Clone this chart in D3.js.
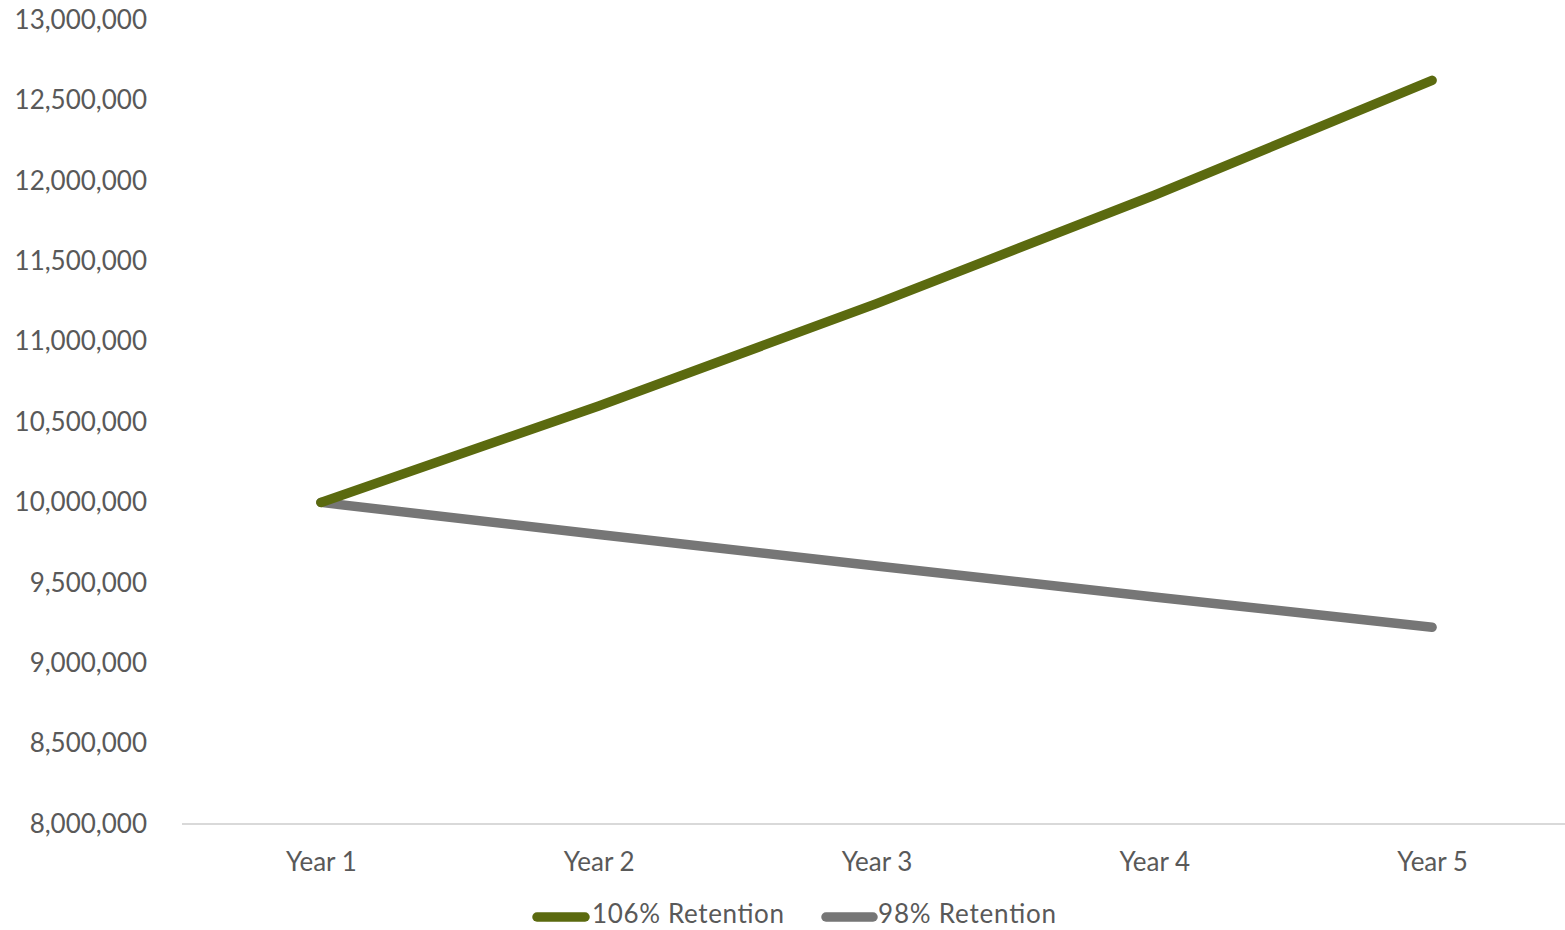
<!DOCTYPE html>
<html><head><meta charset="utf-8">
<script src="https://cdn.jsdelivr.net/npm/d3@7"></script>
<style>
html,body{margin:0;padding:0;background:#fff;overflow:hidden;}
svg{display:block;}
text{font-family:Lato, "Open Sans", sans-serif;fill:#595959;}
</style></head>
<body>
<svg id="chart" width="1565" height="930"></svg>
<script>
const categories = ["Year 1","Year 2","Year 3","Year 4","Year 5"];
const retention106 = [10000000, 10600000, 11236000, 11910160, 12624770];
const retention98 = [10000000, 9800000, 9604000, 9411920, 9223680];
const seriesNames = ["106% Retention","98% Retention"];
const yTicks = [8000000,8500000,9000000,9500000,10000000,10500000,11000000,11500000,12000000,12500000,13000000];

const colors = ["#5b6a0f","#767676"];
const svg = d3.select("#chart");
const x = d3.scalePoint().domain(categories).range([182,1571]).padding(0.5);
const y = d3.scaleLinear().domain([8000000,13000000]).range([824,20]);
const fmt = d3.format(",");

// y axis labels
const yAxis = svg.append("g").attr("transform","translate(147,0)")
  .call(d3.axisLeft(y).tickValues(yTicks).tickFormat(fmt).tickSize(0).tickPadding(0));
yAxis.select(".domain").remove();
yAxis.selectAll("text").attr("font-size",26).attr("fill","#595959").attr("font-family","Lato, sans-serif");

// x axis
const xAxis = svg.append("g").attr("transform","translate(0,824)")
  .call(d3.axisBottom(x).tickSize(0).tickPadding(29));
xAxis.select(".domain").attr("stroke","#d9d9d9").attr("stroke-width",2).attr("d","M182,0H1565");
xAxis.selectAll("text").attr("font-size",26).attr("fill","#595959").attr("font-family","Lato, sans-serif");

const line = d3.line().x((d,i)=>x(categories[i])).y(d=>y(d));
[retention98, retention106].forEach((s,k)=>{
  const idx = k===0?1:0;
  svg.append("path").datum(s).attr("d",line).attr("fill","none")
    .attr("stroke",colors[idx]).attr("stroke-width",9.5)
    .attr("stroke-linecap","round").attr("stroke-linejoin","round");
});

// legend
const legendItems = [{name:seriesNames[0],c:colors[0],x0:537,x1:585,tx:592},{name:seriesNames[1],c:colors[1],x0:826,x1:873,tx:878}];
const lg = svg.append("g");
legendItems.forEach(it=>{
  lg.append("line").attr("x1",it.x0).attr("x2",it.x1).attr("y1",917).attr("y2",917)
    .attr("stroke",it.c).attr("stroke-width",9.5).attr("stroke-linecap","round");
  lg.append("text").attr("x",it.tx).attr("y",914).attr("dy","0.35em")
    .attr("font-size",26).attr("textLength", it.name===seriesNames[0]?192:178)
    .attr("lengthAdjust","spacing").text(it.name);
});
</script>
</body></html>
